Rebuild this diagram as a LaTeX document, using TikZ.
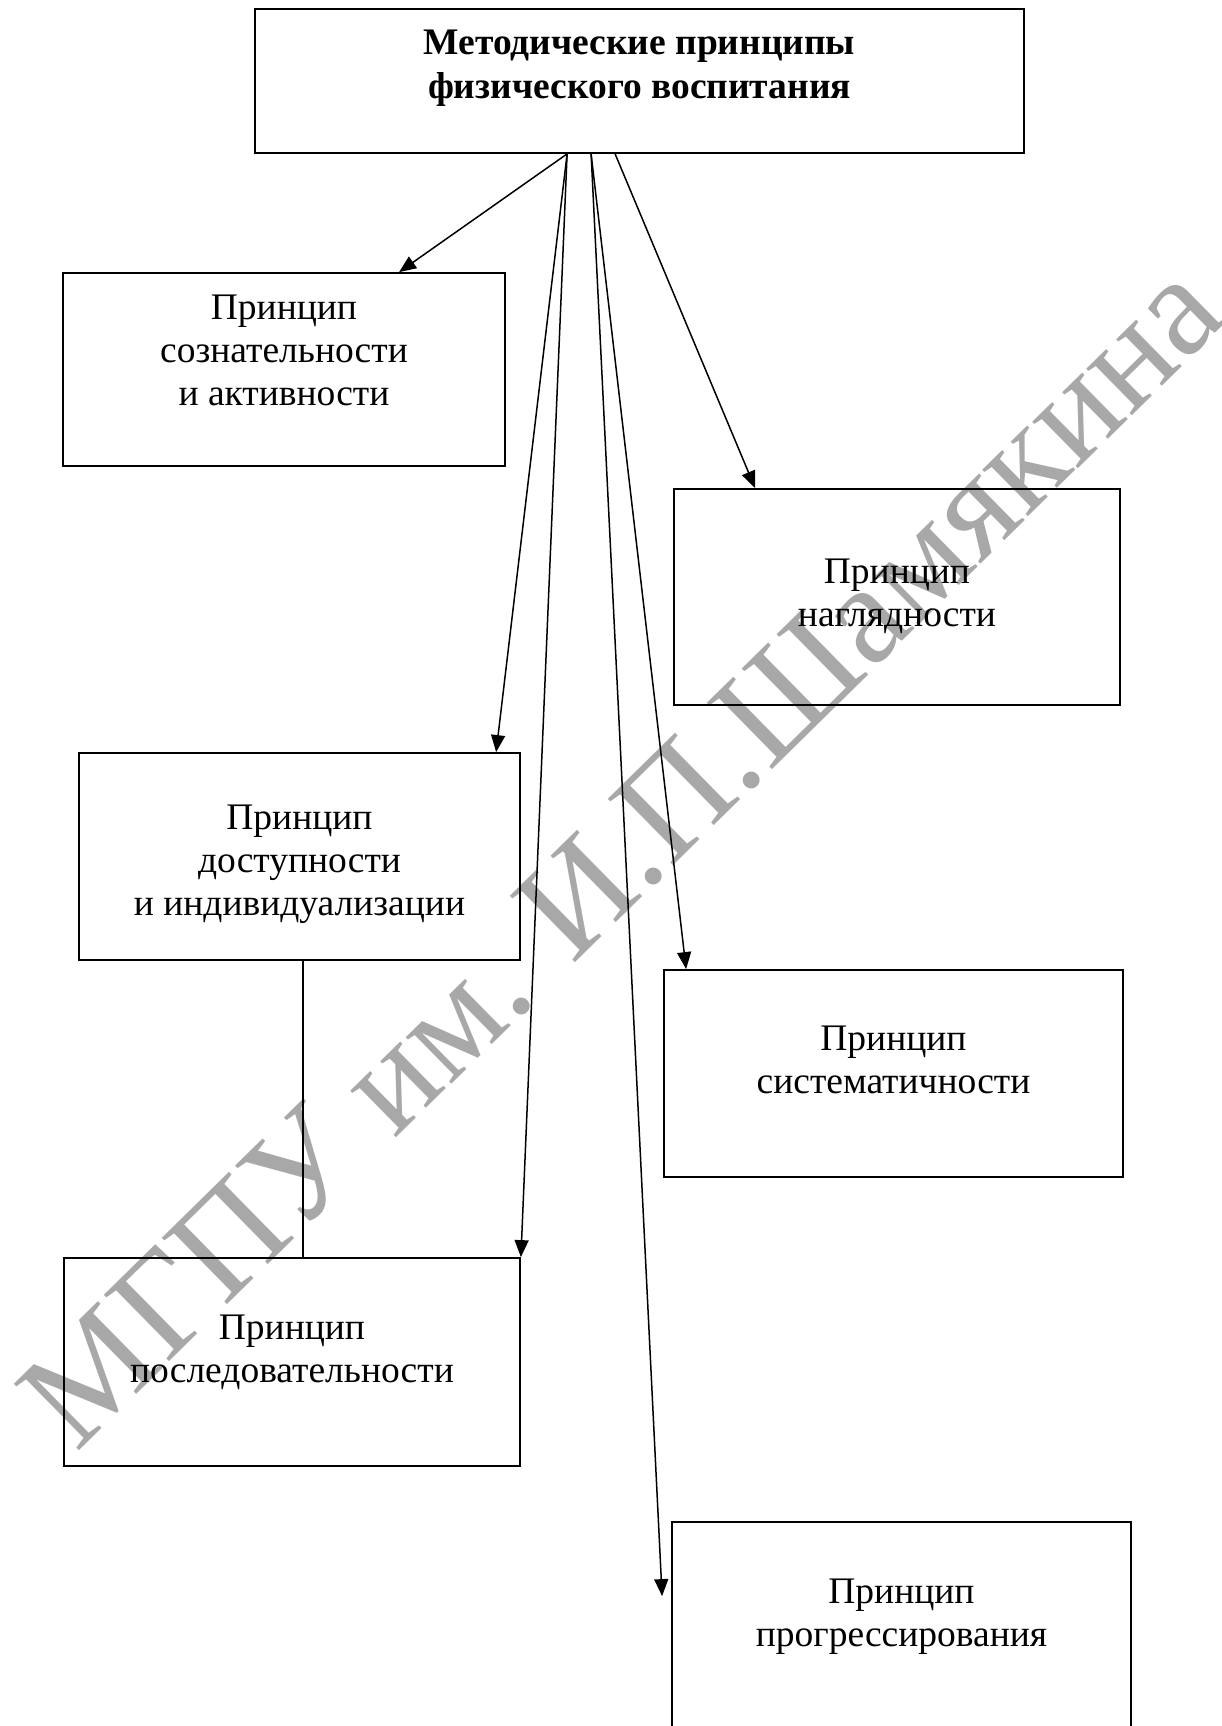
\documentclass[tikz,border=0pt]{standalone}
\usepackage{fontspec}
\setmainfont{Liberation Serif}
\usetikzlibrary{arrows.meta}
% centred stack of lines whose baseline is the first line
\newcommand{\stk}[1]{\begin{tabular}[t]{@{}c@{}}#1\end{tabular}}
\begin{document}
\begin{tikzpicture}[x=1pt,y=-1pt,
  box/.style={draw, rectangle, line width=1.8pt, inner sep=0pt},
  lbl/.style={inner sep=0pt, anchor=base, font=\fontsize{37.5}{43}\selectfont},
  ttl/.style={inner sep=0pt, anchor=base, font=\fontsize{37.5}{44}\selectfont\bfseries},
  link/.style={line width=1.5pt, -{Triangle[length=17pt,width=14pt]}},
  plain/.style={line width=1.5pt},
  wm/.style={inner sep=0pt, text=black!34, font=\fontsize{142}{142}\selectfont}]
\useasboundingbox (0,0) rectangle (1221,1726);
\fill[white] (0,0) rectangle (1221,1726);

% watermark behind everything
\node[wm, rotate=44.5] (mark) at (621,854) {МГПУ им. И.П.Шамякина};

% boxes
\node[box, minimum width=769pt, minimum height=144pt] (top)   at (639.5,81) {};
\node[box, minimum width=442pt, minimum height=193pt] (soz)   at (284,369.5) {};
\node[box, minimum width=446pt, minimum height=216pt] (nagl)  at (897,597) {};
\node[box, minimum width=441pt, minimum height=207pt] (dost)  at (299.5,856.5) {};
\node[box, minimum width=459pt, minimum height=207pt] (sist)  at (893.5,1073.5) {};
\node[box, minimum width=456pt, minimum height=208pt] (posl)  at (292,1362) {};
\node[box, minimum width=459pt, minimum height=213pt] (progr) at (901.5,1628.5) {};

% texts
\node[ttl] (ttop) at (639.5,55) {\stk{Методические принципы\\физического воспитания}};
\node[lbl] (tsoz) at (284,319) {\stk{Принцип\\сознательности\\и активности}};
\node[lbl] (tnagl) at (897,583) {\stk{Принцип\\наглядности}};
\node[lbl] (tdost) at (299.5,829) {\stk{Принцип\\доступности\\и индивидуализации}};
\node[lbl] (tsist) at (893.5,1050) {\stk{Принцип\\систематичности}};
\node[lbl] (tposl) at (292,1339) {\stk{Принцип\\последовательности}};
\node[lbl] (tprogr) at (901.5,1603) {\stk{Принцип\\прогрессирования}};

% connectors
\draw[link] ([xshift=313pt]top.south west) -- ([xshift=337pt]soz.north west);
\draw[link] ([xshift=313pt]top.south west) -- ([xshift=418pt]dost.north west);
\draw[link] ([xshift=313pt]top.south west) -- (posl.north east);
\draw[link] ([xshift=337pt]top.south west) -- ([xshift=23pt]sist.north west);
\draw[link] ([xshift=337pt]top.south west) -- ([xshift=-9pt,yshift=-75pt]progr.north west);
\draw[link] ([xshift=361pt]top.south west) -- ([xshift=82pt]nagl.north west);
\draw[plain] ([xshift=225pt]dost.south west) -- ([xshift=240pt]posl.north west);
\end{tikzpicture}
\end{document}
